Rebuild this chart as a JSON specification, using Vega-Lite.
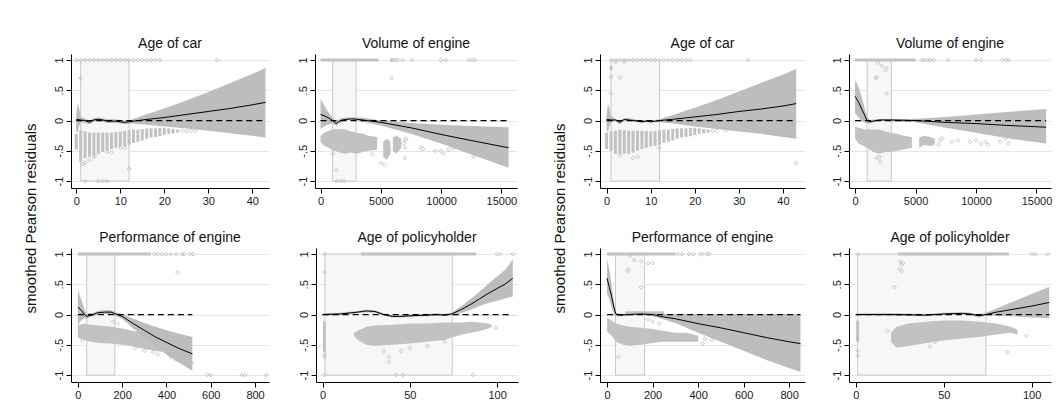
{
"$schema": "https://vega.github.io/schema/vega-lite/v6.json",
"padding": {"left": 23, "top": 37, "right": 5, "bottom": 5},
"background": "white",
"datasets": {
"p1": [
{"k":"box","x":1,"x2":12,"y":-1,"y2":1},
{"k":"strip","x":0,"y":-0.48,"y2":-0.22},{"k":"strip","x":1,"y":-0.68,"y2":-0.16},{"k":"strip","x":2,"y":-0.62,"y2":-0.18},{"k":"strip","x":3,"y":-0.6,"y2":-0.2},{"k":"strip","x":4,"y":-0.57,"y2":-0.2},{"k":"strip","x":5,"y":-0.55,"y2":-0.2},{"k":"strip","x":6,"y":-0.52,"y2":-0.2},{"k":"strip","x":7,"y":-0.5,"y2":-0.2},{"k":"strip","x":8,"y":-0.47,"y2":-0.2},{"k":"strip","x":9,"y":-0.45,"y2":-0.19},{"k":"strip","x":10,"y":-0.43,"y2":-0.18},{"k":"strip","x":11,"y":-0.42,"y2":-0.17},{"k":"strip","x":12,"y":-0.4,"y2":-0.16},{"k":"strip","x":13,"y":-0.37,"y2":-0.15},{"k":"strip","x":14,"y":-0.35,"y2":-0.15},{"k":"strip","x":15,"y":-0.33,"y2":-0.14},{"k":"strip","x":16,"y":-0.3,"y2":-0.13},{"k":"strip","x":17,"y":-0.28,"y2":-0.13},{"k":"strip","x":18,"y":-0.27,"y2":-0.13},{"k":"strip","x":19,"y":-0.26,"y2":-0.12},{"k":"strip","x":20,"y":-0.24,"y2":-0.12},{"k":"strip","x":21,"y":-0.22,"y2":-0.13},{"k":"strip","x":22,"y":-0.21,"y2":-0.14},{"k":"strip","x":23,"y":-0.2,"y2":-0.15},
{"k":"pt","x":24,"y":-0.17},{"k":"pt","x":25,"y":-0.18},{"k":"pt","x":26,"y":-0.17},{"k":"pt","x":27,"y":-0.17},
{"k":"pt","x":0,"y":1},{"k":"pt","x":1,"y":1},{"k":"pt","x":2,"y":1},{"k":"pt","x":3,"y":1},{"k":"pt","x":4,"y":1},{"k":"pt","x":5,"y":1},{"k":"pt","x":6,"y":1},{"k":"pt","x":7,"y":1},{"k":"pt","x":8,"y":1},{"k":"pt","x":9,"y":1},{"k":"pt","x":10,"y":1},{"k":"pt","x":11,"y":1},{"k":"pt","x":12,"y":1},{"k":"pt","x":13,"y":1},{"k":"pt","x":14,"y":1},{"k":"pt","x":15,"y":1},{"k":"pt","x":16,"y":1},{"k":"pt","x":17,"y":1},{"k":"pt","x":18,"y":1},{"k":"pt","x":19,"y":1},{"k":"pt","x":32,"y":1},
{"k":"pt","x":2,"y":-1},{"k":"pt","x":5,"y":-1},{"k":"pt","x":6,"y":-1},{"k":"pt","x":7,"y":-1},
{"k":"pt","x":1,"y":0.7},{"k":"pt","x":1.5,"y":-0.72},{"k":"pt","x":2,"y":-0.7},{"k":"pt","x":3,"y":-0.65},{"k":"pt","x":4,"y":-0.6},{"k":"pt","x":4.3,"y":-0.58},{"k":"pt","x":12,"y":-0.8},{"k":"pt","x":7,"y":-0.52},{"k":"pt","x":8,"y":-0.53},{"k":"pt","x":10,"y":-0.45},{"k":"pt","x":11,"y":-0.45},
{"k":"band","x":0,"y":-0.18,"y2":0.1},{"k":"band","x":0.3,"y":-0.2,"y2":0.28},{"k":"band","x":0.6,"y":-0.1,"y2":0.22},{"k":"band","x":1,"y":-0.03,"y2":0.06},{"k":"band","x":2,"y":-0.04,"y2":0.03},{"k":"band","x":3,"y":-0.06,"y2":0.0},{"k":"band","x":4,"y":-0.02,"y2":0.04},{"k":"band","x":5,"y":-0.01,"y2":0.05},{"k":"band","x":6,"y":-0.02,"y2":0.04},{"k":"band","x":7,"y":-0.04,"y2":0.02},{"k":"band","x":8,"y":-0.04,"y2":0.02},{"k":"band","x":9,"y":-0.04,"y2":0.02},{"k":"band","x":10,"y":-0.05,"y2":0.01},{"k":"band","x":11,"y":-0.06,"y2":0.0},{"k":"band","x":12,"y":-0.05,"y2":0.0},{"k":"band","x":15,"y":-0.06,"y2":0.08},{"k":"band","x":20,"y":-0.1,"y2":0.2},{"k":"band","x":25,"y":-0.13,"y2":0.33},{"k":"band","x":30,"y":-0.17,"y2":0.47},{"k":"band","x":35,"y":-0.21,"y2":0.62},{"k":"band","x":40,"y":-0.25,"y2":0.77},{"k":"band","x":43,"y":-0.28,"y2":0.87},
{"k":"line","x":0,"y":0.02},{"k":"line","x":1,"y":0.01},{"k":"line","x":2,"y":0.0},{"k":"line","x":3,"y":-0.03},{"k":"line","x":4,"y":0.01},{"k":"line","x":5,"y":0.02},{"k":"line","x":6,"y":0.01},{"k":"line","x":7,"y":-0.01},{"k":"line","x":8,"y":-0.01},{"k":"line","x":9,"y":-0.01},{"k":"line","x":10,"y":-0.02},{"k":"line","x":11,"y":-0.03},{"k":"line","x":12,"y":-0.02},{"k":"line","x":15,"y":0.01},{"k":"line","x":20,"y":0.05},{"k":"line","x":25,"y":0.1},{"k":"line","x":30,"y":0.15},{"k":"line","x":35,"y":0.2},{"k":"line","x":40,"y":0.26},{"k":"line","x":43,"y":0.3},
{"k":"zero","x":0,"x2":43,"y":0}
],
"p2": [
{"k":"box","x":1000,"x2":2950,"y":-1,"y2":1},
{"k":"cloud","g":1,"x":0,"y":-0.35,"y2":-0.25},{"k":"cloud","g":1,"x":300,"y":-0.42,"y2":-0.2},{"k":"cloud","g":1,"x":700,"y":-0.45,"y2":-0.17},{"k":"cloud","g":1,"x":1000,"y":-0.5,"y2":-0.15},{"k":"cloud","g":1,"x":1500,"y":-0.52,"y2":-0.14},{"k":"cloud","g":1,"x":2000,"y":-0.55,"y2":-0.15},{"k":"cloud","g":1,"x":2500,"y":-0.53,"y2":-0.18},{"k":"cloud","g":1,"x":3000,"y":-0.55,"y2":-0.2},{"k":"cloud","g":1,"x":3500,"y":-0.52,"y2":-0.22},{"k":"cloud","g":1,"x":4000,"y":-0.5,"y2":-0.25},{"k":"cloud","g":1,"x":4700,"y":-0.48,"y2":-0.27},
{"k":"cloud","g":2,"x":5200,"y":-0.6,"y2":-0.35},{"k":"cloud","g":2,"x":5500,"y":-0.65,"y2":-0.3},{"k":"cloud","g":2,"x":5800,"y":-0.55,"y2":-0.35},
{"k":"cloud","g":3,"x":6000,"y":-0.5,"y2":-0.28},{"k":"cloud","g":3,"x":6300,"y":-0.55,"y2":-0.25},{"k":"cloud","g":3,"x":6700,"y":-0.45,"y2":-0.3},
{"k":"pt","x":7000,"y":-0.33},{"k":"pt","x":7000,"y":-0.45},{"k":"pt","x":7000,"y":-0.62},{"k":"pt","x":7100,"y":-0.3},{"k":"pt","x":6900,"y":-0.38},{"k":"pt","x":8300,"y":-0.45},{"k":"pt","x":8500,"y":-0.47},{"k":"pt","x":9500,"y":-0.5},{"k":"pt","x":10000,"y":-0.5},{"k":"pt","x":10200,"y":-0.55},{"k":"pt","x":10600,"y":-0.48},{"k":"pt","x":11000,"y":-0.45},{"k":"pt","x":12700,"y":-0.6},{"k":"pt","x":13000,"y":-0.5},{"k":"pt","x":5000,"y":-0.7},{"k":"pt","x":5300,"y":-0.73},{"k":"pt","x":4300,"y":-0.56},{"k":"pt","x":1000,"y":-0.55},{"k":"pt","x":1300,"y":-0.82},{"k":"pt","x":5900,"y":0.7},
{"k":"seg","x":0,"x2":4800,"y":1},
{"k":"pt","x":5900,"y":1},{"k":"pt","x":6000,"y":1},{"k":"pt","x":6200,"y":1},{"k":"pt","x":6400,"y":1},{"k":"pt","x":6800,"y":1},{"k":"pt","x":7600,"y":1},{"k":"pt","x":10000,"y":1},{"k":"pt","x":10400,"y":1},{"k":"pt","x":12300,"y":1},{"k":"pt","x":12600,"y":1},{"k":"pt","x":12800,"y":1},
{"k":"pt","x":1370,"y":-1},{"k":"pt","x":1700,"y":-1},{"k":"pt","x":1960,"y":-1},
{"k":"band","x":0,"y":-0.14,"y2":0.36},{"k":"band","x":300,"y":-0.1,"y2":0.25},{"k":"band","x":700,"y":-0.06,"y2":0.12},{"k":"band","x":1000,"y":-0.05,"y2":0.05},{"k":"band","x":1300,"y":-0.08,"y2":-0.01},{"k":"band","x":1600,"y":-0.04,"y2":0.03},{"k":"band","x":2000,"y":0.0,"y2":0.05},{"k":"band","x":2500,"y":0.01,"y2":0.05},{"k":"band","x":3000,"y":0.0,"y2":0.05},{"k":"band","x":3500,"y":-0.02,"y2":0.05},{"k":"band","x":5000,"y":-0.08,"y2":0.0},{"k":"band","x":7500,"y":-0.22,"y2":-0.04},{"k":"band","x":10000,"y":-0.38,"y2":-0.07},{"k":"band","x":12500,"y":-0.56,"y2":-0.09},{"k":"band","x":15600,"y":-0.78,"y2":-0.11},
{"k":"line","x":0,"y":0.1},{"k":"line","x":300,"y":0.08},{"k":"line","x":700,"y":0.04},{"k":"line","x":1000,"y":0.0},{"k":"line","x":1300,"y":-0.05},{"k":"line","x":1500,"y":-0.02},{"k":"line","x":1800,"y":0.01},{"k":"line","x":2200,"y":0.02},{"k":"line","x":2600,"y":0.03},{"k":"line","x":3000,"y":0.02},{"k":"line","x":3500,"y":0.01},{"k":"line","x":5000,"y":-0.03},{"k":"line","x":7500,"y":-0.12},{"k":"line","x":10000,"y":-0.23},{"k":"line","x":12500,"y":-0.33},{"k":"line","x":15600,"y":-0.45},
{"k":"zero","x":0,"x2":15600,"y":0}
],
"p3": [
{"k":"box","x":40,"x2":167,"y":-1,"y2":1},
{"k":"cloud","x":0,"y":-0.38,"y2":-0.18},{"k":"cloud","x":30,"y":-0.42,"y2":-0.15},{"k":"cloud","x":60,"y":-0.45,"y2":-0.17},{"k":"cloud","x":100,"y":-0.47,"y2":-0.18},{"k":"cloud","x":150,"y":-0.48,"y2":-0.2},{"k":"cloud","x":200,"y":-0.5,"y2":-0.23},{"k":"cloud","x":250,"y":-0.53,"y2":-0.27},{"k":"cloud","x":300,"y":-0.57,"y2":-0.3},{"k":"cloud","x":350,"y":-0.6,"y2":-0.35},{"k":"cloud","x":380,"y":-0.62,"y2":-0.45},
{"k":"pt","x":400,"y":-0.6},{"k":"pt","x":410,"y":-0.65},{"k":"pt","x":420,"y":-0.7},{"k":"pt","x":440,"y":-0.73},{"k":"pt","x":450,"y":0.7},{"k":"pt","x":390,"y":-0.55},{"k":"pt","x":160,"y":-0.12},{"k":"pt","x":180,"y":-0.15},{"k":"pt","x":260,"y":-0.55},{"k":"pt","x":300,"y":-0.6},{"k":"pt","x":340,"y":-0.62},{"k":"pt","x":360,"y":-0.66},{"k":"pt","x":20,"y":-0.43},{"k":"pt","x":515,"y":-0.8},
{"k":"seg","x":0,"x2":330,"y":1},
{"k":"pt","x":345,"y":1},{"k":"pt","x":360,"y":1},{"k":"pt","x":380,"y":1},{"k":"pt","x":400,"y":1},{"k":"pt","x":420,"y":1},{"k":"pt","x":445,"y":1},{"k":"pt","x":470,"y":1},{"k":"pt","x":480,"y":1},{"k":"pt","x":505,"y":1},{"k":"pt","x":520,"y":1},
{"k":"pt","x":585,"y":-1},{"k":"pt","x":600,"y":-1},{"k":"pt","x":740,"y":-1},{"k":"pt","x":755,"y":-1},{"k":"pt","x":850,"y":-1},
{"k":"band","x":0,"y":-0.2,"y2":0.43},{"k":"band","x":10,"y":-0.12,"y2":0.3},{"k":"band","x":20,"y":-0.08,"y2":0.2},{"k":"band","x":30,"y":-0.06,"y2":0.08},{"k":"band","x":40,"y":-0.07,"y2":0.01},{"k":"band","x":50,"y":-0.05,"y2":0.02},{"k":"band","x":70,"y":-0.03,"y2":0.03},{"k":"band","x":90,"y":0.0,"y2":0.06},{"k":"band","x":120,"y":0.01,"y2":0.07},{"k":"band","x":150,"y":0.0,"y2":0.07},{"k":"band","x":170,"y":-0.02,"y2":0.04},{"k":"band","x":200,"y":-0.07,"y2":0.01},{"k":"band","x":250,"y":-0.23,"y2":-0.07},{"k":"band","x":300,"y":-0.38,"y2":-0.14},{"k":"band","x":350,"y":-0.52,"y2":-0.2},{"k":"band","x":400,"y":-0.66,"y2":-0.26},{"k":"band","x":450,"y":-0.78,"y2":-0.31},{"k":"band","x":517,"y":-0.93,"y2":-0.37},
{"k":"line","x":0,"y":0.12},{"k":"line","x":10,"y":0.09},{"k":"line","x":20,"y":0.05},{"k":"line","x":30,"y":0.0},{"k":"line","x":40,"y":-0.03},{"k":"line","x":50,"y":-0.02},{"k":"line","x":70,"y":0.0},{"k":"line","x":90,"y":0.03},{"k":"line","x":120,"y":0.04},{"k":"line","x":150,"y":0.04},{"k":"line","x":170,"y":0.01},{"k":"line","x":200,"y":-0.03},{"k":"line","x":250,"y":-0.15},{"k":"line","x":300,"y":-0.26},{"k":"line","x":350,"y":-0.37},{"k":"line","x":400,"y":-0.46},{"k":"line","x":450,"y":-0.55},{"k":"line","x":517,"y":-0.65},
{"k":"zero","x":0,"x2":517,"y":0}
],
"p4": [
{"k":"box","x":1.3,"x2":74.3,"y":-1,"y2":1},
{"k":"cloud","x":18,"y":-0.35,"y2":-0.3},{"k":"cloud","x":20,"y":-0.42,"y2":-0.27},{"k":"cloud","x":25,"y":-0.5,"y2":-0.2},{"k":"cloud","x":30,"y":-0.52,"y2":-0.18},{"k":"cloud","x":40,"y":-0.5,"y2":-0.17},{"k":"cloud","x":50,"y":-0.48,"y2":-0.15},{"k":"cloud","x":60,"y":-0.45,"y2":-0.15},{"k":"cloud","x":70,"y":-0.42,"y2":-0.13},{"k":"cloud","x":75,"y":-0.37,"y2":-0.13},{"k":"cloud","x":80,"y":-0.33,"y2":-0.13},{"k":"cloud","x":85,"y":-0.3,"y2":-0.12},{"k":"cloud","x":90,"y":-0.27,"y2":-0.13},{"k":"cloud","x":95,"y":-0.23,"y2":-0.15},{"k":"cloud","x":97,"y":-0.2,"y2":-0.17},
{"k":"strip","x":1,"y":-0.62,"y2":-0.12},
{"k":"pt","x":1,"y":0.7},{"k":"pt","x":1,"y":-0.66},{"k":"pt","x":1,"y":-0.7},{"k":"pt","x":38,"y":-0.7},{"k":"pt","x":38,"y":-0.78},{"k":"pt","x":35,"y":-0.6},{"k":"pt","x":45,"y":-0.6},{"k":"pt","x":50,"y":-0.55},{"k":"pt","x":60,"y":-0.52},{"k":"pt","x":70,"y":-0.45},{"k":"pt","x":99,"y":-0.22},
{"k":"seg","x":22,"x2":88,"y":1},
{"k":"pt","x":1,"y":1},{"k":"pt","x":100,"y":1},{"k":"pt","x":102,"y":1},{"k":"pt","x":109,"y":1},
{"k":"pt","x":1,"y":-1},{"k":"pt","x":42,"y":-1},{"k":"pt","x":46,"y":-1},{"k":"pt","x":86,"y":-1},
{"k":"band","x":0,"y":-0.02,"y2":0.02},{"k":"band","x":10,"y":-0.01,"y2":0.03},{"k":"band","x":20,"y":0.02,"y2":0.06},{"k":"band","x":25,"y":0.04,"y2":0.08},{"k":"band","x":30,"y":0.03,"y2":0.07},{"k":"band","x":35,"y":-0.02,"y2":0.02},{"k":"band","x":40,"y":-0.05,"y2":-0.01},{"k":"band","x":45,"y":-0.05,"y2":-0.01},{"k":"band","x":50,"y":-0.04,"y2":0.0},{"k":"band","x":60,"y":-0.03,"y2":0.01},{"k":"band","x":65,"y":-0.02,"y2":0.02},{"k":"band","x":70,"y":-0.03,"y2":0.01},{"k":"band","x":74,"y":-0.01,"y2":0.03},{"k":"band","x":80,"y":0.03,"y2":0.15},{"k":"band","x":85,"y":0.08,"y2":0.26},{"k":"band","x":90,"y":0.14,"y2":0.38},{"k":"band","x":95,"y":0.19,"y2":0.51},{"k":"band","x":100,"y":0.23,"y2":0.63},{"k":"band","x":105,"y":0.27,"y2":0.75},{"k":"band","x":109,"y":0.3,"y2":0.91},
{"k":"line","x":0,"y":0.0},{"k":"line","x":10,"y":0.01},{"k":"line","x":20,"y":0.04},{"k":"line","x":25,"y":0.06},{"k":"line","x":30,"y":0.05},{"k":"line","x":35,"y":0.0},{"k":"line","x":40,"y":-0.03},{"k":"line","x":45,"y":-0.03},{"k":"line","x":50,"y":-0.02},{"k":"line","x":60,"y":-0.01},{"k":"line","x":65,"y":0.0},{"k":"line","x":70,"y":-0.01},{"k":"line","x":74,"y":0.01},{"k":"line","x":80,"y":0.09},{"k":"line","x":85,"y":0.17},{"k":"line","x":90,"y":0.26},{"k":"line","x":95,"y":0.35},{"k":"line","x":100,"y":0.43},{"k":"line","x":105,"y":0.51},{"k":"line","x":109,"y":0.6},
{"k":"zero","x":0,"x2":109,"y":0}
],
"p5": [
{"k":"box","x":1,"x2":12,"y":-1,"y2":1},
{"k":"strip","x":0,"y":-0.47,"y2":-0.2},{"k":"strip","x":1,"y":-0.5,"y2":-0.18},{"k":"strip","x":2,"y":-0.55,"y2":-0.17},{"k":"strip","x":3,"y":-0.55,"y2":-0.15},{"k":"strip","x":4,"y":-0.55,"y2":-0.16},{"k":"strip","x":5,"y":-0.55,"y2":-0.17},{"k":"strip","x":6,"y":-0.53,"y2":-0.17},{"k":"strip","x":7,"y":-0.5,"y2":-0.17},{"k":"strip","x":8,"y":-0.47,"y2":-0.17},{"k":"strip","x":9,"y":-0.45,"y2":-0.17},{"k":"strip","x":10,"y":-0.43,"y2":-0.18},{"k":"strip","x":11,"y":-0.42,"y2":-0.17},{"k":"strip","x":12,"y":-0.4,"y2":-0.16},{"k":"strip","x":13,"y":-0.37,"y2":-0.15},{"k":"strip","x":14,"y":-0.35,"y2":-0.15},{"k":"strip","x":15,"y":-0.33,"y2":-0.14},{"k":"strip","x":16,"y":-0.3,"y2":-0.13},{"k":"strip","x":17,"y":-0.28,"y2":-0.13},{"k":"strip","x":18,"y":-0.27,"y2":-0.13},{"k":"strip","x":19,"y":-0.26,"y2":-0.12},{"k":"strip","x":20,"y":-0.24,"y2":-0.12},{"k":"strip","x":21,"y":-0.22,"y2":-0.13},{"k":"strip","x":22,"y":-0.21,"y2":-0.14},{"k":"strip","x":23,"y":-0.2,"y2":-0.15},{"k":"strip","x":1,"y":0.84,"y2":0.9},
{"k":"pt","x":24,"y":-0.17},{"k":"pt","x":25,"y":-0.17},{"k":"pt","x":27,"y":-0.16},
{"k":"pt","x":1,"y":0.72},{"k":"pt","x":1,"y":0.45},{"k":"pt","x":3,"y":0.71},{"k":"pt","x":4,"y":0.97},{"k":"pt","x":2,"y":0.97},
{"k":"pt","x":6,"y":-0.62},{"k":"pt","x":7,"y":-0.6},{"k":"pt","x":43,"y":-0.7},{"k":"pt","x":3,"y":-0.58},{"k":"pt","x":12,"y":-0.45},
{"k":"pt","x":1,"y":1},{"k":"pt","x":2,"y":1},{"k":"pt","x":3,"y":1},{"k":"pt","x":4,"y":1},{"k":"pt","x":5,"y":1},{"k":"pt","x":6,"y":1},{"k":"pt","x":7,"y":1},{"k":"pt","x":8,"y":1},{"k":"pt","x":9,"y":1},{"k":"pt","x":10,"y":1},{"k":"pt","x":11,"y":1},{"k":"pt","x":12,"y":1},{"k":"pt","x":13,"y":1},{"k":"pt","x":14,"y":1},{"k":"pt","x":15,"y":1},{"k":"pt","x":16,"y":1},{"k":"pt","x":17,"y":1},{"k":"pt","x":18,"y":1},{"k":"pt","x":19,"y":1},{"k":"pt","x":32,"y":1},
{"k":"band","x":0,"y":-0.15,"y2":0.1},{"k":"band","x":0.3,"y":-0.2,"y2":0.28},{"k":"band","x":0.6,"y":-0.1,"y2":0.22},{"k":"band","x":1,"y":-0.03,"y2":0.07},{"k":"band","x":2,"y":-0.01,"y2":0.03},{"k":"band","x":3,"y":-0.06,"y2":0.0},{"k":"band","x":4,"y":-0.01,"y2":0.04},{"k":"band","x":5,"y":-0.01,"y2":0.04},{"k":"band","x":6,"y":-0.02,"y2":0.03},{"k":"band","x":7,"y":-0.03,"y2":0.01},{"k":"band","x":8,"y":-0.04,"y2":0.01},{"k":"band","x":9,"y":-0.03,"y2":0.01},{"k":"band","x":10,"y":-0.04,"y2":0.0},{"k":"band","x":11,"y":-0.03,"y2":0.01},{"k":"band","x":12,"y":-0.03,"y2":0.02},{"k":"band","x":15,"y":-0.05,"y2":0.09},{"k":"band","x":20,"y":-0.1,"y2":0.21},{"k":"band","x":25,"y":-0.14,"y2":0.34},{"k":"band","x":30,"y":-0.18,"y2":0.48},{"k":"band","x":35,"y":-0.22,"y2":0.62},{"k":"band","x":40,"y":-0.27,"y2":0.76},{"k":"band","x":43,"y":-0.3,"y2":0.85},
{"k":"line","x":0,"y":0.02},{"k":"line","x":1,"y":0.01},{"k":"line","x":2,"y":0.01},{"k":"line","x":3,"y":-0.03},{"k":"line","x":4,"y":0.02},{"k":"line","x":5,"y":0.01},{"k":"line","x":6,"y":0.0},{"k":"line","x":7,"y":-0.01},{"k":"line","x":8,"y":-0.02},{"k":"line","x":9,"y":-0.01},{"k":"line","x":10,"y":-0.02},{"k":"line","x":11,"y":-0.01},{"k":"line","x":12,"y":0.0},{"k":"line","x":15,"y":0.02},{"k":"line","x":20,"y":0.06},{"k":"line","x":25,"y":0.1},{"k":"line","x":30,"y":0.15},{"k":"line","x":35,"y":0.19},{"k":"line","x":40,"y":0.24},{"k":"line","x":43,"y":0.28},
{"k":"zero","x":0,"x2":43,"y":0}
],
"p6": [
{"k":"box","x":1000,"x2":3000,"y":-1,"y2":1},
{"k":"cloud","g":1,"x":0,"y":-0.3,"y2":-0.1},{"k":"cloud","g":1,"x":300,"y":-0.38,"y2":-0.12},{"k":"cloud","g":1,"x":700,"y":-0.42,"y2":-0.14},{"k":"cloud","g":1,"x":1000,"y":-0.45,"y2":-0.15},{"k":"cloud","g":1,"x":1500,"y":-0.52,"y2":-0.15},{"k":"cloud","g":1,"x":2000,"y":-0.55,"y2":-0.15},{"k":"cloud","g":1,"x":2500,"y":-0.52,"y2":-0.18},{"k":"cloud","g":1,"x":3000,"y":-0.52,"y2":-0.2},{"k":"cloud","g":1,"x":3500,"y":-0.5,"y2":-0.22},{"k":"cloud","g":1,"x":4000,"y":-0.48,"y2":-0.25},{"k":"cloud","g":1,"x":4700,"y":-0.45,"y2":-0.27},
{"k":"cloud","g":2,"x":5300,"y":-0.45,"y2":-0.28},{"k":"cloud","g":2,"x":5700,"y":-0.4,"y2":-0.25},{"k":"cloud","g":2,"x":6200,"y":-0.42,"y2":-0.27},{"k":"cloud","g":2,"x":6600,"y":-0.4,"y2":-0.3},
{"k":"pt","x":7000,"y":-0.33},{"k":"pt","x":7200,"y":-0.3},{"k":"pt","x":6900,"y":-0.4},{"k":"pt","x":8000,"y":-0.35},{"k":"pt","x":8500,"y":-0.33},{"k":"pt","x":9500,"y":-0.35},{"k":"pt","x":10000,"y":-0.33},{"k":"pt","x":10400,"y":-0.38},{"k":"pt","x":10800,"y":-0.35},{"k":"pt","x":11000,"y":-0.4},{"k":"pt","x":12000,"y":-0.35},{"k":"pt","x":12700,"y":-0.38},{"k":"pt","x":12400,"y":-0.3},
{"k":"pt","x":1700,"y":0.7},{"k":"pt","x":1800,"y":0.72},{"k":"pt","x":1900,"y":0.95},{"k":"pt","x":2200,"y":0.9},{"k":"pt","x":2500,"y":0.83},{"k":"pt","x":2600,"y":0.87},{"k":"pt","x":2600,"y":0.45},{"k":"pt","x":1800,"y":-0.62},{"k":"pt","x":2100,"y":-0.68},{"k":"pt","x":2000,"y":-0.6},{"k":"pt","x":1200,"y":-0.42},
{"k":"seg","x":0,"x2":5000,"y":1},
{"k":"pt","x":5500,"y":1},{"k":"pt","x":5700,"y":1},{"k":"pt","x":6000,"y":1},{"k":"pt","x":6200,"y":1},{"k":"pt","x":6500,"y":1},{"k":"pt","x":7700,"y":1},{"k":"pt","x":10000,"y":1},{"k":"pt","x":10400,"y":1},{"k":"pt","x":12200,"y":1},{"k":"pt","x":12500,"y":1},{"k":"pt","x":12700,"y":1},
{"k":"band","x":0,"y":0.12,"y2":0.67},{"k":"band","x":300,"y":0.05,"y2":0.55},{"k":"band","x":600,"y":-0.02,"y2":0.35},{"k":"band","x":1000,"y":-0.05,"y2":0.05},{"k":"band","x":1300,"y":-0.05,"y2":0.0},{"k":"band","x":1600,"y":-0.02,"y2":0.02},{"k":"band","x":2000,"y":-0.01,"y2":0.02},{"k":"band","x":3000,"y":-0.01,"y2":0.02},{"k":"band","x":5000,"y":-0.03,"y2":0.03},{"k":"band","x":7500,"y":-0.12,"y2":0.06},{"k":"band","x":10000,"y":-0.2,"y2":0.1},{"k":"band","x":12500,"y":-0.29,"y2":0.14},{"k":"band","x":15800,"y":-0.38,"y2":0.19},
{"k":"line","x":0,"y":0.4},{"k":"line","x":300,"y":0.3},{"k":"line","x":600,"y":0.17},{"k":"line","x":1000,"y":0.0},{"k":"line","x":1200,"y":-0.02},{"k":"line","x":1500,"y":-0.01},{"k":"line","x":2000,"y":0.01},{"k":"line","x":3000,"y":0.01},{"k":"line","x":5000,"y":0.0},{"k":"line","x":7500,"y":-0.03},{"k":"line","x":10000,"y":-0.05},{"k":"line","x":12500,"y":-0.08},{"k":"line","x":15800,"y":-0.11},
{"k":"zero","x":0,"x2":15800,"y":0}
],
"p7": [
{"k":"box","x":37,"x2":165,"y":-1,"y2":1},
{"k":"cloud","x":0,"y":-0.28,"y2":-0.05},{"k":"cloud","x":20,"y":-0.35,"y2":-0.1},{"k":"cloud","x":40,"y":-0.45,"y2":-0.15},{"k":"cloud","x":70,"y":-0.5,"y2":-0.18},{"k":"cloud","x":100,"y":-0.52,"y2":-0.2},{"k":"cloud","x":150,"y":-0.5,"y2":-0.22},{"k":"cloud","x":200,"y":-0.47,"y2":-0.24},{"k":"cloud","x":250,"y":-0.45,"y2":-0.27},{"k":"cloud","x":300,"y":-0.45,"y2":-0.3},{"k":"cloud","x":350,"y":-0.45,"y2":-0.3},{"k":"cloud","x":400,"y":-0.45,"y2":-0.35},
{"k":"seg","x":80,"x2":250,"y":0.03},
{"k":"pt","x":100,"y":0.97},{"k":"pt","x":120,"y":0.9},{"k":"pt","x":95,"y":0.75},{"k":"pt","x":90,"y":0.72},{"k":"pt","x":150,"y":0.88},{"k":"pt","x":180,"y":0.85},{"k":"pt","x":150,"y":0.45},{"k":"pt","x":200,"y":0.85},{"k":"pt","x":50,"y":-0.7},{"k":"pt","x":460,"y":-0.42},{"k":"pt","x":420,"y":-0.48},{"k":"pt","x":430,"y":-0.4},{"k":"pt","x":180,"y":-0.08},{"k":"pt","x":200,"y":-0.12},{"k":"pt","x":230,"y":-0.15},
{"k":"seg","x":0,"x2":300,"y":1},
{"k":"pt","x":310,"y":1},{"k":"pt","x":330,"y":1},{"k":"pt","x":360,"y":1},{"k":"pt","x":380,"y":1},{"k":"pt","x":410,"y":1},{"k":"pt","x":420,"y":1},{"k":"pt","x":440,"y":1},{"k":"pt","x":450,"y":1},
{"k":"band","x":0,"y":0.35,"y2":0.92},{"k":"band","x":10,"y":0.25,"y2":0.75},{"k":"band","x":20,"y":0.12,"y2":0.5},{"k":"band","x":30,"y":0.0,"y2":0.2},{"k":"band","x":40,"y":-0.03,"y2":0.03},{"k":"band","x":60,"y":-0.03,"y2":0.01},{"k":"band","x":100,"y":-0.01,"y2":0.02},{"k":"band","x":150,"y":-0.01,"y2":0.02},{"k":"band","x":200,"y":-0.03,"y2":0.02},{"k":"band","x":250,"y":-0.08,"y2":0.01},{"k":"band","x":300,"y":-0.14,"y2":0.01},{"k":"band","x":400,"y":-0.3,"y2":0.01},{"k":"band","x":500,"y":-0.45,"y2":0.01},{"k":"band","x":600,"y":-0.6,"y2":0.01},{"k":"band","x":700,"y":-0.75,"y2":0.01},{"k":"band","x":850,"y":-0.95,"y2":0.01},
{"k":"line","x":0,"y":0.6},{"k":"line","x":10,"y":0.45},{"k":"line","x":20,"y":0.3},{"k":"line","x":30,"y":0.12},{"k":"line","x":40,"y":0.0},{"k":"line","x":60,"y":-0.01},{"k":"line","x":100,"y":0.0},{"k":"line","x":150,"y":0.01},{"k":"line","x":200,"y":0.0},{"k":"line","x":250,"y":-0.04},{"k":"line","x":300,"y":-0.07},{"k":"line","x":400,"y":-0.15},{"k":"line","x":500,"y":-0.22},{"k":"line","x":600,"y":-0.3},{"k":"line","x":700,"y":-0.38},{"k":"line","x":800,"y":-0.45},{"k":"line","x":850,"y":-0.48},
{"k":"zero","x":0,"x2":850,"y":0}
],
"p8": [
{"k":"box","x":1,"x2":74,"y":-1,"y2":1},
{"k":"cloud","x":20,"y":-0.45,"y2":-0.3},{"k":"cloud","x":23,"y":-0.55,"y2":-0.2},{"k":"cloud","x":30,"y":-0.52,"y2":-0.15},{"k":"cloud","x":40,"y":-0.47,"y2":-0.12},{"k":"cloud","x":50,"y":-0.43,"y2":-0.1},{"k":"cloud","x":60,"y":-0.4,"y2":-0.1},{"k":"cloud","x":70,"y":-0.37,"y2":-0.12},{"k":"cloud","x":80,"y":-0.33,"y2":-0.15},{"k":"cloud","x":88,"y":-0.3,"y2":-0.2},{"k":"cloud","x":92,"y":-0.33,"y2":-0.25},
{"k":"strip","x":1,"y":-0.45,"y2":-0.1},
{"k":"pt","x":1,"y":-0.6},{"k":"pt","x":1,"y":-0.68},{"k":"pt","x":25,"y":0.88},{"k":"pt","x":26,"y":0.83},{"k":"pt","x":27,"y":0.85},{"k":"pt","x":25,"y":0.75},{"k":"pt","x":26,"y":0.72},{"k":"pt","x":22,"y":0.45},{"k":"pt","x":42,"y":-0.53},{"k":"pt","x":45,"y":-0.45},{"k":"pt","x":86,"y":-0.62},{"k":"pt","x":97,"y":-0.35},{"k":"pt","x":18,"y":-0.28},
{"k":"seg","x":24,"x2":87,"y":1},
{"k":"pt","x":1,"y":1},{"k":"pt","x":100,"y":1},{"k":"pt","x":102,"y":1},{"k":"pt","x":109,"y":1},
{"k":"band","x":0,"y":-0.02,"y2":0.02},{"k":"band","x":20,"y":-0.02,"y2":0.02},{"k":"band","x":40,"y":-0.03,"y2":0.01},{"k":"band","x":50,"y":-0.01,"y2":0.03},{"k":"band","x":60,"y":0.0,"y2":0.04},{"k":"band","x":65,"y":-0.01,"y2":0.03},{"k":"band","x":70,"y":-0.05,"y2":0.0},{"k":"band","x":74,"y":-0.02,"y2":0.03},{"k":"band","x":80,"y":-0.02,"y2":0.1},{"k":"band","x":90,"y":-0.03,"y2":0.22},{"k":"band","x":100,"y":-0.05,"y2":0.34},{"k":"band","x":110,"y":-0.06,"y2":0.46},
{"k":"line","x":0,"y":0.0},{"k":"line","x":20,"y":0.0},{"k":"line","x":40,"y":-0.01},{"k":"line","x":50,"y":0.01},{"k":"line","x":60,"y":0.02},{"k":"line","x":65,"y":0.01},{"k":"line","x":70,"y":-0.02},{"k":"line","x":74,"y":0.0},{"k":"line","x":80,"y":0.04},{"k":"line","x":90,"y":0.09},{"k":"line","x":100,"y":0.14},{"k":"line","x":110,"y":0.2},
{"k":"zero","x":0,"x2":110,"y":0}
]
},
"hconcat": [
{
"title": {"text": "smoothed Pearson residuals", "orient": "left", "anchor": "middle", "fontSize": 15, "offset": 14},
"spacing": 25,
"vconcat": [
{"hconcat": [
{"width": 198, "height": 134, "title": "Age of car", "data": {"name": "p1"},
 "encoding": {"x": {"field": "x", "type": "quantitative", "title": null, "scale": {"domain": [-1.2, 43.8], "nice": false, "zero": false}, "axis": {"values": [0, 10, 20, 30, 40], "format": "d"}},
  "y": {"field": "y", "type": "quantitative", "title": null, "scale": {"domain": [-1.115, 1.1], "nice": false, "zero": false}, "axis": {"values": [-1, -0.5, 0, 0.5, 1], "grid": true, "labelAngle": -90, "labelAlign": "center", "labelBaseline": "bottom", "labelExpr": "datum.value==0?'0':datum.value==1?'1':datum.value==-1?'-1':datum.value==0.5?'.5':'-.5'"}}},
 "layer": [
  {"transform": [{"filter": "datum.k=='box'"}], "mark": {"type": "rect", "fill": "#f7f7f7", "stroke": "#c8c8c8", "strokeWidth": 1}, "encoding": {"x2": {"field": "x2"}, "y2": {"field": "y2"}}},
  {"transform": [{"filter": "datum.k=='cloud'"}], "mark": {"type": "area", "color": "#c2c2c2"}, "encoding": {"y2": {"field": "y2"}, "detail": {"field": "g"}}},
  {"transform": [{"filter": "datum.k=='strip'"}], "mark": {"type": "rule", "color": "#c2c2c2", "strokeWidth": 3}, "encoding": {"y2": {"field": "y2"}}},
  {"transform": [{"filter": "datum.k=='seg'"}], "mark": {"type": "rule", "color": "#c2c2c2", "strokeWidth": 3}, "encoding": {"x2": {"field": "x2"}}},
  {"transform": [{"filter": "datum.k=='pt'"}], "mark": {"type": "point", "shape": "diamond", "filled": false, "color": "#b8b8b8", "size": 14, "strokeWidth": 0.8, "opacity": 1}, "encoding": {}},
  {"transform": [{"filter": "datum.k=='band'"}], "mark": {"type": "area", "color": "#bdbdbd"}, "encoding": {"y2": {"field": "y2"}}},
  {"transform": [{"filter": "datum.k=='line'"}], "mark": {"type": "line", "color": "#000000", "strokeWidth": 1}, "encoding": {}},
  {"transform": [{"filter": "datum.k=='zero'"}], "mark": {"type": "rule", "color": "#000000", "strokeWidth": 1.3, "strokeDash": [6, 4]}, "encoding": {"x2": {"field": "x2"}}}
 ]},
{"width": 202, "height": 134, "title": "Volume of engine", "data": {"name": "p2"},
 "encoding": {"x": {"field": "x", "type": "quantitative", "title": null, "scale": {"domain": [-460, 16300], "nice": false, "zero": false}, "axis": {"values": [0, 5000, 10000, 15000], "format": "d"}},
  "y": {"field": "y", "type": "quantitative", "title": null, "scale": {"domain": [-1.115, 1.1], "nice": false, "zero": false}, "axis": {"values": [-1, -0.5, 0, 0.5, 1], "grid": true, "labelAngle": -90, "labelAlign": "center", "labelBaseline": "bottom", "labelExpr": "datum.value==0?'0':datum.value==1?'1':datum.value==-1?'-1':datum.value==0.5?'.5':'-.5'"}}},
 "layer": [
  {"transform": [{"filter": "datum.k=='box'"}], "mark": {"type": "rect", "fill": "#f7f7f7", "stroke": "#c8c8c8", "strokeWidth": 1}, "encoding": {"x2": {"field": "x2"}, "y2": {"field": "y2"}}},
  {"transform": [{"filter": "datum.k=='cloud'"}], "mark": {"type": "area", "color": "#c2c2c2"}, "encoding": {"y2": {"field": "y2"}, "detail": {"field": "g"}}},
  {"transform": [{"filter": "datum.k=='strip'"}], "mark": {"type": "rule", "color": "#c2c2c2", "strokeWidth": 3}, "encoding": {"y2": {"field": "y2"}}},
  {"transform": [{"filter": "datum.k=='seg'"}], "mark": {"type": "rule", "color": "#c2c2c2", "strokeWidth": 3}, "encoding": {"x2": {"field": "x2"}}},
  {"transform": [{"filter": "datum.k=='pt'"}], "mark": {"type": "point", "shape": "diamond", "filled": false, "color": "#b8b8b8", "size": 14, "strokeWidth": 0.8, "opacity": 1}, "encoding": {}},
  {"transform": [{"filter": "datum.k=='band'"}], "mark": {"type": "area", "color": "#bdbdbd"}, "encoding": {"y2": {"field": "y2"}}},
  {"transform": [{"filter": "datum.k=='line'"}], "mark": {"type": "line", "color": "#000000", "strokeWidth": 1}, "encoding": {}},
  {"transform": [{"filter": "datum.k=='zero'"}], "mark": {"type": "rule", "color": "#000000", "strokeWidth": 1.3, "strokeDash": [6, 4]}, "encoding": {"x2": {"field": "x2"}}}
 ]}
], "spacing": 27},
{"hconcat": [
{"width": 198, "height": 134, "title": "Performance of engine", "data": {"name": "p3"},
 "encoding": {"x": {"field": "x", "type": "quantitative", "title": null, "scale": {"domain": [-31, 863], "nice": false, "zero": false}, "axis": {"values": [0, 200, 400, 600, 800], "format": "d"}},
  "y": {"field": "y", "type": "quantitative", "title": null, "scale": {"domain": [-1.115, 1.1], "nice": false, "zero": false}, "axis": {"values": [-1, -0.5, 0, 0.5, 1], "grid": true, "labelAngle": -90, "labelAlign": "center", "labelBaseline": "bottom", "labelExpr": "datum.value==0?'0':datum.value==1?'1':datum.value==-1?'-1':datum.value==0.5?'.5':'-.5'"}}},
 "layer": [
  {"transform": [{"filter": "datum.k=='box'"}], "mark": {"type": "rect", "fill": "#f7f7f7", "stroke": "#c8c8c8", "strokeWidth": 1}, "encoding": {"x2": {"field": "x2"}, "y2": {"field": "y2"}}},
  {"transform": [{"filter": "datum.k=='cloud'"}], "mark": {"type": "area", "color": "#c2c2c2"}, "encoding": {"y2": {"field": "y2"}, "detail": {"field": "g"}}},
  {"transform": [{"filter": "datum.k=='strip'"}], "mark": {"type": "rule", "color": "#c2c2c2", "strokeWidth": 3}, "encoding": {"y2": {"field": "y2"}}},
  {"transform": [{"filter": "datum.k=='seg'"}], "mark": {"type": "rule", "color": "#c2c2c2", "strokeWidth": 3}, "encoding": {"x2": {"field": "x2"}}},
  {"transform": [{"filter": "datum.k=='pt'"}], "mark": {"type": "point", "shape": "diamond", "filled": false, "color": "#b8b8b8", "size": 14, "strokeWidth": 0.8, "opacity": 1}, "encoding": {}},
  {"transform": [{"filter": "datum.k=='band'"}], "mark": {"type": "area", "color": "#bdbdbd"}, "encoding": {"y2": {"field": "y2"}}},
  {"transform": [{"filter": "datum.k=='line'"}], "mark": {"type": "line", "color": "#000000", "strokeWidth": 1}, "encoding": {}},
  {"transform": [{"filter": "datum.k=='zero'"}], "mark": {"type": "rule", "color": "#000000", "strokeWidth": 1.3, "strokeDash": [6, 4]}, "encoding": {"x2": {"field": "x2"}}}
 ]},
{"width": 202, "height": 134, "title": "Age of policyholder", "data": {"name": "p4"},
 "encoding": {"x": {"field": "x", "type": "quantitative", "title": null, "scale": {"domain": [-3.8, 112], "nice": false, "zero": false}, "axis": {"values": [0, 50, 100], "format": "d"}},
  "y": {"field": "y", "type": "quantitative", "title": null, "scale": {"domain": [-1.115, 1.1], "nice": false, "zero": false}, "axis": {"values": [-1, -0.5, 0, 0.5, 1], "grid": true, "labelAngle": -90, "labelAlign": "center", "labelBaseline": "bottom", "labelExpr": "datum.value==0?'0':datum.value==1?'1':datum.value==-1?'-1':datum.value==0.5?'.5':'-.5'"}}},
 "layer": [
  {"transform": [{"filter": "datum.k=='box'"}], "mark": {"type": "rect", "fill": "#f7f7f7", "stroke": "#c8c8c8", "strokeWidth": 1}, "encoding": {"x2": {"field": "x2"}, "y2": {"field": "y2"}}},
  {"transform": [{"filter": "datum.k=='cloud'"}], "mark": {"type": "area", "color": "#c2c2c2"}, "encoding": {"y2": {"field": "y2"}, "detail": {"field": "g"}}},
  {"transform": [{"filter": "datum.k=='strip'"}], "mark": {"type": "rule", "color": "#c2c2c2", "strokeWidth": 3}, "encoding": {"y2": {"field": "y2"}}},
  {"transform": [{"filter": "datum.k=='seg'"}], "mark": {"type": "rule", "color": "#c2c2c2", "strokeWidth": 3}, "encoding": {"x2": {"field": "x2"}}},
  {"transform": [{"filter": "datum.k=='pt'"}], "mark": {"type": "point", "shape": "diamond", "filled": false, "color": "#b8b8b8", "size": 14, "strokeWidth": 0.8, "opacity": 1}, "encoding": {}},
  {"transform": [{"filter": "datum.k=='band'"}], "mark": {"type": "area", "color": "#bdbdbd"}, "encoding": {"y2": {"field": "y2"}}},
  {"transform": [{"filter": "datum.k=='line'"}], "mark": {"type": "line", "color": "#000000", "strokeWidth": 1}, "encoding": {}},
  {"transform": [{"filter": "datum.k=='zero'"}], "mark": {"type": "rule", "color": "#000000", "strokeWidth": 1.3, "strokeDash": [6, 4]}, "encoding": {"x2": {"field": "x2"}}}
 ]}
], "spacing": 27}
]
},
{
"title": {"text": "smoothed Pearson residuals", "orient": "left", "anchor": "middle", "fontSize": 15, "offset": 14},
"spacing": 25,
"vconcat": [
{"hconcat": [
{"width": 205, "height": 134, "title": "Age of car", "data": {"name": "p5"},
 "encoding": {"x": {"field": "x", "type": "quantitative", "title": null, "scale": {"domain": [-1.5, 45], "nice": false, "zero": false}, "axis": {"values": [0, 10, 20, 30, 40], "format": "d"}},
  "y": {"field": "y", "type": "quantitative", "title": null, "scale": {"domain": [-1.115, 1.1], "nice": false, "zero": false}, "axis": {"values": [-1, -0.5, 0, 0.5, 1], "grid": true, "labelAngle": -90, "labelAlign": "center", "labelBaseline": "bottom", "labelExpr": "datum.value==0?'0':datum.value==1?'1':datum.value==-1?'-1':datum.value==0.5?'.5':'-.5'"}}},
 "layer": [
  {"transform": [{"filter": "datum.k=='box'"}], "mark": {"type": "rect", "fill": "#f7f7f7", "stroke": "#c8c8c8", "strokeWidth": 1}, "encoding": {"x2": {"field": "x2"}, "y2": {"field": "y2"}}},
  {"transform": [{"filter": "datum.k=='cloud'"}], "mark": {"type": "area", "color": "#c2c2c2"}, "encoding": {"y2": {"field": "y2"}, "detail": {"field": "g"}}},
  {"transform": [{"filter": "datum.k=='strip'"}], "mark": {"type": "rule", "color": "#c2c2c2", "strokeWidth": 3}, "encoding": {"y2": {"field": "y2"}}},
  {"transform": [{"filter": "datum.k=='seg'"}], "mark": {"type": "rule", "color": "#c2c2c2", "strokeWidth": 3}, "encoding": {"x2": {"field": "x2"}}},
  {"transform": [{"filter": "datum.k=='pt'"}], "mark": {"type": "point", "shape": "diamond", "filled": false, "color": "#b8b8b8", "size": 14, "strokeWidth": 0.8, "opacity": 1}, "encoding": {}},
  {"transform": [{"filter": "datum.k=='band'"}], "mark": {"type": "area", "color": "#bdbdbd"}, "encoding": {"y2": {"field": "y2"}}},
  {"transform": [{"filter": "datum.k=='line'"}], "mark": {"type": "line", "color": "#000000", "strokeWidth": 1}, "encoding": {}},
  {"transform": [{"filter": "datum.k=='zero'"}], "mark": {"type": "rule", "color": "#000000", "strokeWidth": 1.3, "strokeDash": [6, 4]}, "encoding": {"x2": {"field": "x2"}}}
 ]},
{"width": 202, "height": 134, "title": "Volume of engine", "data": {"name": "p6"},
 "encoding": {"x": {"field": "x", "type": "quantitative", "title": null, "scale": {"domain": [-500, 16200], "nice": false, "zero": false}, "axis": {"values": [0, 5000, 10000, 15000], "format": "d"}},
  "y": {"field": "y", "type": "quantitative", "title": null, "scale": {"domain": [-1.115, 1.1], "nice": false, "zero": false}, "axis": {"values": [-1, -0.5, 0, 0.5, 1], "grid": true, "labelAngle": -90, "labelAlign": "center", "labelBaseline": "bottom", "labelExpr": "datum.value==0?'0':datum.value==1?'1':datum.value==-1?'-1':datum.value==0.5?'.5':'-.5'"}}},
 "layer": [
  {"transform": [{"filter": "datum.k=='box'"}], "mark": {"type": "rect", "fill": "#f7f7f7", "stroke": "#c8c8c8", "strokeWidth": 1}, "encoding": {"x2": {"field": "x2"}, "y2": {"field": "y2"}}},
  {"transform": [{"filter": "datum.k=='cloud'"}], "mark": {"type": "area", "color": "#c2c2c2"}, "encoding": {"y2": {"field": "y2"}, "detail": {"field": "g"}}},
  {"transform": [{"filter": "datum.k=='strip'"}], "mark": {"type": "rule", "color": "#c2c2c2", "strokeWidth": 3}, "encoding": {"y2": {"field": "y2"}}},
  {"transform": [{"filter": "datum.k=='seg'"}], "mark": {"type": "rule", "color": "#c2c2c2", "strokeWidth": 3}, "encoding": {"x2": {"field": "x2"}}},
  {"transform": [{"filter": "datum.k=='pt'"}], "mark": {"type": "point", "shape": "diamond", "filled": false, "color": "#b8b8b8", "size": 14, "strokeWidth": 0.8, "opacity": 1}, "encoding": {}},
  {"transform": [{"filter": "datum.k=='band'"}], "mark": {"type": "area", "color": "#bdbdbd"}, "encoding": {"y2": {"field": "y2"}}},
  {"transform": [{"filter": "datum.k=='line'"}], "mark": {"type": "line", "color": "#000000", "strokeWidth": 1}, "encoding": {}},
  {"transform": [{"filter": "datum.k=='zero'"}], "mark": {"type": "rule", "color": "#000000", "strokeWidth": 1.3, "strokeDash": [6, 4]}, "encoding": {"x2": {"field": "x2"}}}
 ]}
], "spacing": 25},
{"hconcat": [
{"width": 205, "height": 134, "title": "Performance of engine", "data": {"name": "p7"},
 "encoding": {"x": {"field": "x", "type": "quantitative", "title": null, "scale": {"domain": [-31, 870], "nice": false, "zero": false}, "axis": {"values": [0, 200, 400, 600, 800], "format": "d"}},
  "y": {"field": "y", "type": "quantitative", "title": null, "scale": {"domain": [-1.115, 1.1], "nice": false, "zero": false}, "axis": {"values": [-1, -0.5, 0, 0.5, 1], "grid": true, "labelAngle": -90, "labelAlign": "center", "labelBaseline": "bottom", "labelExpr": "datum.value==0?'0':datum.value==1?'1':datum.value==-1?'-1':datum.value==0.5?'.5':'-.5'"}}},
 "layer": [
  {"transform": [{"filter": "datum.k=='box'"}], "mark": {"type": "rect", "fill": "#f7f7f7", "stroke": "#c8c8c8", "strokeWidth": 1}, "encoding": {"x2": {"field": "x2"}, "y2": {"field": "y2"}}},
  {"transform": [{"filter": "datum.k=='cloud'"}], "mark": {"type": "area", "color": "#c2c2c2"}, "encoding": {"y2": {"field": "y2"}, "detail": {"field": "g"}}},
  {"transform": [{"filter": "datum.k=='strip'"}], "mark": {"type": "rule", "color": "#c2c2c2", "strokeWidth": 3}, "encoding": {"y2": {"field": "y2"}}},
  {"transform": [{"filter": "datum.k=='seg'"}], "mark": {"type": "rule", "color": "#c2c2c2", "strokeWidth": 3}, "encoding": {"x2": {"field": "x2"}}},
  {"transform": [{"filter": "datum.k=='pt'"}], "mark": {"type": "point", "shape": "diamond", "filled": false, "color": "#b8b8b8", "size": 14, "strokeWidth": 0.8, "opacity": 1}, "encoding": {}},
  {"transform": [{"filter": "datum.k=='band'"}], "mark": {"type": "area", "color": "#bdbdbd"}, "encoding": {"y2": {"field": "y2"}}},
  {"transform": [{"filter": "datum.k=='line'"}], "mark": {"type": "line", "color": "#000000", "strokeWidth": 1}, "encoding": {}},
  {"transform": [{"filter": "datum.k=='zero'"}], "mark": {"type": "rule", "color": "#000000", "strokeWidth": 1.3, "strokeDash": [6, 4]}, "encoding": {"x2": {"field": "x2"}}}
 ]},
{"width": 202, "height": 134, "title": "Age of policyholder", "data": {"name": "p8"},
 "encoding": {"x": {"field": "x", "type": "quantitative", "title": null, "scale": {"domain": [-3.9, 111], "nice": false, "zero": false}, "axis": {"values": [0, 50, 100], "format": "d"}},
  "y": {"field": "y", "type": "quantitative", "title": null, "scale": {"domain": [-1.115, 1.1], "nice": false, "zero": false}, "axis": {"values": [-1, -0.5, 0, 0.5, 1], "grid": true, "labelAngle": -90, "labelAlign": "center", "labelBaseline": "bottom", "labelExpr": "datum.value==0?'0':datum.value==1?'1':datum.value==-1?'-1':datum.value==0.5?'.5':'-.5'"}}},
 "layer": [
  {"transform": [{"filter": "datum.k=='box'"}], "mark": {"type": "rect", "fill": "#f7f7f7", "stroke": "#c8c8c8", "strokeWidth": 1}, "encoding": {"x2": {"field": "x2"}, "y2": {"field": "y2"}}},
  {"transform": [{"filter": "datum.k=='cloud'"}], "mark": {"type": "area", "color": "#c2c2c2"}, "encoding": {"y2": {"field": "y2"}, "detail": {"field": "g"}}},
  {"transform": [{"filter": "datum.k=='strip'"}], "mark": {"type": "rule", "color": "#c2c2c2", "strokeWidth": 3}, "encoding": {"y2": {"field": "y2"}}},
  {"transform": [{"filter": "datum.k=='seg'"}], "mark": {"type": "rule", "color": "#c2c2c2", "strokeWidth": 3}, "encoding": {"x2": {"field": "x2"}}},
  {"transform": [{"filter": "datum.k=='pt'"}], "mark": {"type": "point", "shape": "diamond", "filled": false, "color": "#b8b8b8", "size": 14, "strokeWidth": 0.8, "opacity": 1}, "encoding": {}},
  {"transform": [{"filter": "datum.k=='band'"}], "mark": {"type": "area", "color": "#bdbdbd"}, "encoding": {"y2": {"field": "y2"}}},
  {"transform": [{"filter": "datum.k=='line'"}], "mark": {"type": "line", "color": "#000000", "strokeWidth": 1}, "encoding": {}},
  {"transform": [{"filter": "datum.k=='zero'"}], "mark": {"type": "rule", "color": "#000000", "strokeWidth": 1.3, "strokeDash": [6, 4]}, "encoding": {"x2": {"field": "x2"}}}
 ]}
], "spacing": 25}
]
}
],
"spacing": 34,
"config": {
 "font": "Liberation Sans",
 "view": {"stroke": null},
 "axis": {"domainColor": "#000000", "tickColor": "#000000", "labelColor": "#1a1a1a", "labelFontSize": 11, "labelFont": "Liberation Sans", "tickSize": 5, "labelPadding": 2, "gridColor": "#e6e6e6", "domainWidth": 1},
 "axisX": {"grid": false},
 "title": {"fontSize": 14, "fontWeight": "normal", "font": "Liberation Sans", "color": "#111111", "offset": 3}
}
}
